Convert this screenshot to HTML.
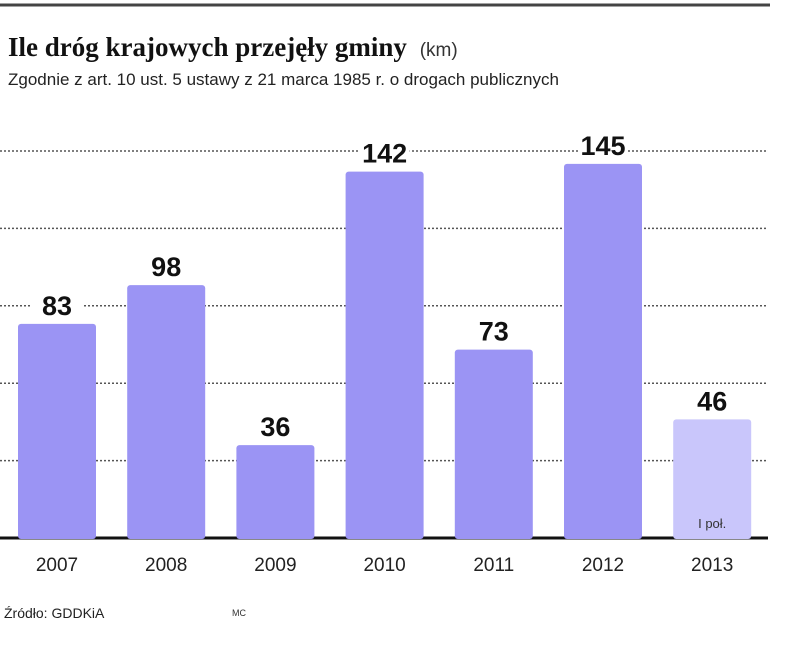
<!DOCTYPE html>
<html><head><meta charset="utf-8"><style>
body{margin:0;background:#fff;width:805px;height:656px;overflow:hidden;font-family:"Liberation Sans",sans-serif}
</style></head><body>
<svg width="805" height="656">
<line x1="0" y1="5" x2="770" y2="5" stroke="#444" stroke-width="3"/>
<text x="8" y="56" font-family="Liberation Serif" font-weight="bold" font-size="27" fill="#111">Ile dróg krajowych przejęły gminy <tspan font-family="Liberation Sans" font-weight="normal" font-size="19" fill="#333" dx="6">(km)</tspan></text>
<text x="8" y="85" font-size="17" fill="#222">Zgodnie z art. 10 ust. 5 ustawy z 21 marca 1985 r. o drogach publicznych</text>
<g id="grid"></g>
<g id="bars"></g>
<text x="4" y="618" font-size="14" fill="#222">Źródło: GDDKiA</text>
<text x="232" y="616" font-size="9" fill="#333">MC</text>
</svg>
<script>
const categories=["2007","2008","2009","2010","2011","2012","2013"];
const values=[83,98,36,142,73,145,46];
const partial=[false,false,false,false,false,false,true];
const gridTicks=[30,60,90,120,150];
const ns="http://www.w3.org/2000/svg";
const base=538, k=2.58, x0=18, pitch=109.2, bw=78;
const y=v=>base-v*k;
const xb=i=>x0+i*pitch;
function mk(t,a,p){const e=document.createElementNS(ns,t);for(const n in a)e.setAttribute(n,a[n]);p.appendChild(e);return e;}
const grid=document.getElementById("grid"),bars=document.getElementById("bars");
gridTicks.forEach(t=>{const l=mk("line",{x1:0,x2:768,y1:y(t),y2:y(t),stroke:"#555","stroke-width":1.5,"stroke-dasharray":"2 2"},grid);

});
const ax=mk("line",{x1:0,x2:768,y1:base,y2:base,stroke:"#111","stroke-width":3},grid);


categories.forEach((c,i)=>{
 const v=values[i],x=xb(i);
 const r=mk("rect",{x:x,y:y(v),width:bw,height:base-y(v)+1,rx:3,fill:partial[i]?"#c9c6fb":"#9b94f4"},bars);
 
 
 const bg=mk("rect",{x:x+14,y:y(v)-34,width:bw-28,height:30,fill:"#fff"},bars);
 
 
 const t=mk("text",{x:x+bw/2,y:y(v)-9,"text-anchor":"middle","font-size":27,"font-weight":"bold",fill:"#111"},bars);
 t.textContent=v;
 
 
 const yl=mk("text",{x:x+bw/2,y:571,"text-anchor":"middle","font-size":19,fill:"#222"},bars);
 yl.textContent=c;
 
 
 if(partial[i]){const p=mk("text",{x:x+bw/2,y:528,"text-anchor":"middle","font-size":13,fill:"#333"},bars);
 p.textContent="I poł.";
 
 }
});
</script>
</body></html>
